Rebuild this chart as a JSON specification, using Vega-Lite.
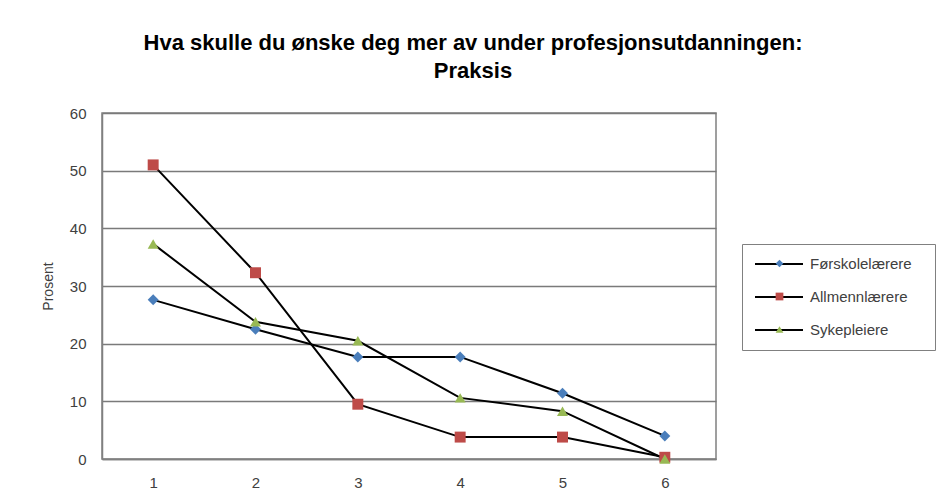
{
  "$schema": "https://vega.github.io/schema/vega-lite/v6.json",
  "width": 614,
  "height": 346,
  "autosize": {"type": "none"},
  "padding": {"left": 102, "top": 113, "right": 221, "bottom": 41},
  "background": "white",
  "title": {
    "text": ["Hva skulle du ønske deg mer av under profesjonsutdanningen:", "Praksis"],
    "font": "Liberation Sans",
    "fontSize": 22,
    "fontWeight": "bold",
    "color": "#000000",
    "lineHeight": 28,
    "anchor": "middle",
    "dx": 64,
    "offset": 23
  },
  "config": {
    "font": "Liberation Sans",
    "view": {"stroke": "#808080", "strokeWidth": 1.5}
  },
  "data": {
    "values": [
      {"x": "1", "serie": "Førskolelærere", "v": 27.6},
      {"x": "2", "serie": "Førskolelærere", "v": 22.5},
      {"x": "3", "serie": "Førskolelærere", "v": 17.7},
      {"x": "4", "serie": "Førskolelærere", "v": 17.7},
      {"x": "5", "serie": "Førskolelærere", "v": 11.4},
      {"x": "6", "serie": "Førskolelærere", "v": 4.0},
      {"x": "1", "serie": "Allmennlærere", "v": 51.0},
      {"x": "2", "serie": "Allmennlærere", "v": 32.3},
      {"x": "3", "serie": "Allmennlærere", "v": 9.5},
      {"x": "4", "serie": "Allmennlærere", "v": 3.8},
      {"x": "5", "serie": "Allmennlærere", "v": 3.8},
      {"x": "6", "serie": "Allmennlærere", "v": 0.3},
      {"x": "1", "serie": "Sykepleiere", "v": 37.3},
      {"x": "2", "serie": "Sykepleiere", "v": 23.8},
      {"x": "3", "serie": "Sykepleiere", "v": 20.5},
      {"x": "4", "serie": "Sykepleiere", "v": 10.6},
      {"x": "5", "serie": "Sykepleiere", "v": 8.3},
      {"x": "6", "serie": "Sykepleiere", "v": 0.0}
    ]
  },
  "encoding": {
    "x": {
      "field": "x",
      "type": "ordinal",
      "scale": {"type": "point", "padding": 0.5},
      "axis": {
        "title": null,
        "labelAngle": 0,
        "labelFont": "Liberation Sans",
        "labelFontSize": 15,
        "labelColor": "#404040",
        "labelPadding": 16,
        "ticks": false,
        "domainColor": "#808080",
        "domainWidth": 1.5
      }
    },
    "y": {
      "field": "v",
      "type": "quantitative",
      "scale": {"domain": [0, 60], "nice": false},
      "axis": {
        "title": "Prosent",
        "titleFont": "Liberation Sans",
        "titleFontSize": 14,
        "titleFontWeight": "normal",
        "titleColor": "#404040",
        "titlePadding": 14,
        "values": [0, 10, 20, 30, 40, 50, 60],
        "labelFont": "Liberation Sans",
        "labelFontSize": 15,
        "labelColor": "#404040",
        "labelPadding": 16,
        "ticks": false,
        "domainColor": "#808080",
        "domainWidth": 1.5,
        "grid": true,
        "gridColor": "#7a7a7a",
        "gridWidth": 1.5
      }
    }
  },
  "layer": [
    {
      "mark": {"type": "line", "strokeWidth": 2},
      "encoding": {
        "color": {
          "field": "serie",
          "type": "nominal",
          "scale": {"domain": ["Allmennlærere", "Førskolelærere", "Sykepleiere"], "range": ["#000000", "#000000", "#000000"]},
          "legend": {
            "title": null,
            "orient": "none",
            "legendX": 640,
            "legendY": 114,
            "values": ["Førskolelærere", "Allmennlærere", "Sykepleiere"],
            "symbolType": "stroke",
            "symbolSize": 2304,
            "symbolStrokeWidth": 2,
            "labelFont": "Liberation Sans",
            "labelFontSize": 15,
            "labelColor": "#404040",
            "labelOffset": 6,
            "rowPadding": -15,
            "padding": 12
          }
        }
      }
    },
    {
      "mark": {"type": "point", "filled": true, "opacity": 1},
      "encoding": {
        "fill": {
          "field": "serie",
          "type": "nominal",
          "sort": ["Førskolelærere", "Allmennlærere", "Sykepleiere"],
          "scale": {"domain": ["Førskolelærere", "Allmennlærere", "Sykepleiere"], "range": ["#4a7ebb", "#be4b48", "#98b954"]},
          "legend": {
            "title": null,
            "orient": "none",
            "legendX": 640,
            "legendY": 131,
            "symbolSize": 60,
            "symbolStrokeWidth": 0,
            "symbolOffset": 18,
            "labelFont": "Liberation Sans",
            "labelFontSize": 15,
            "labelColor": "transparent",
            "labelOffset": 34,
            "rowPadding": 17,
            "padding": 12,
            "strokeColor": "#808080"
          }
        },
        "shape": {
          "field": "serie",
          "type": "nominal",
          "sort": ["Førskolelærere", "Allmennlærere", "Sykepleiere"],
          "scale": {"domain": ["Førskolelærere", "Allmennlærere", "Sykepleiere"], "range": ["diamond", "square", "triangle-up"]}
        },
        "size": {"value": 120}
      }
    }
  ]
}
